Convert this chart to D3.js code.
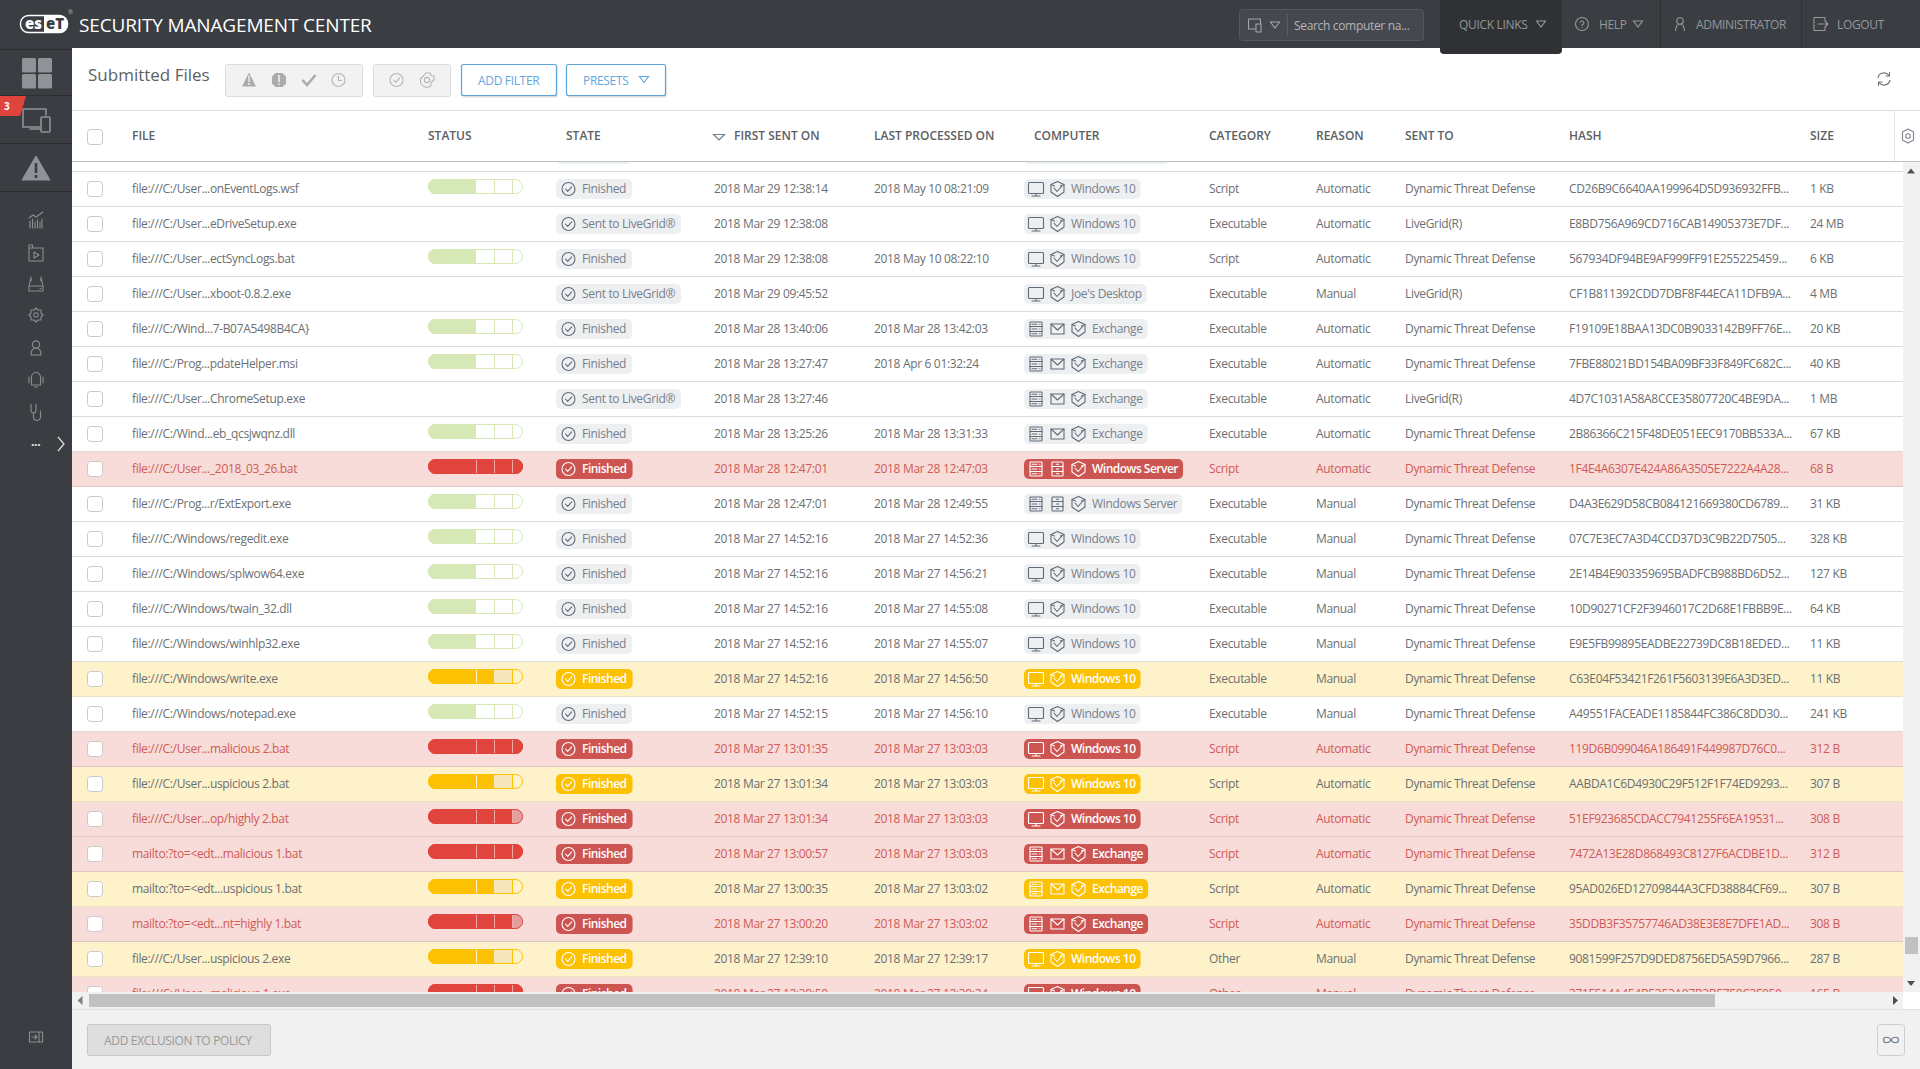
<!DOCTYPE html>
<html>
<head>
<meta charset="utf-8">
<title>Submitted Files</title>
<script src="https://cdn.jsdelivr.net/npm/d3@7"></script>
<style>
  html, body { margin: 0; padding: 0; background: #fff; overflow: hidden; }
  svg { display: block; font-family: "Open Sans", sans-serif; font-size: 12px; letter-spacing: -0.33px; }
  .ico { fill: none; stroke-width: 1.1; stroke-linejoin: round; stroke-linecap: round; }
</style>
</head>
<body>
<div id="chart"></div>
<script>
// Table values
var files = [
    "file:///C:/User...onEventLogs.wsf", "file:///C:/User...eDriveSetup.exe", "file:///C:/User...ectSyncLogs.bat",
    "file:///C:/User...xboot-0.8.2.exe", "file:///C:/Wind...7-B07A5498B4CA}", "file:///C:/Prog...pdateHelper.msi",
    "file:///C:/User...ChromeSetup.exe", "file:///C:/Wind...eb_qcsjwqnz.dll", "file:///C:/User..._2018_03_26.bat",
    "file:///C:/Prog...r/ExtExport.exe", "file:///C:/Windows/regedit.exe", "file:///C:/Windows/splwow64.exe",
    "file:///C:/Windows/twain_32.dll", "file:///C:/Windows/winhlp32.exe", "file:///C:/Windows/write.exe",
    "file:///C:/Windows/notepad.exe", "file:///C:/User...malicious 2.bat", "file:///C:/User...uspicious 2.bat",
    "file:///C:/User...op/highly 2.bat", "mailto:?to=<edt...malicious 1.bat", "mailto:?to=<edt...uspicious 1.bat",
    "mailto:?to=<edt...nt=highly 1.bat", "file:///C:/User...uspicious 2.exe", "file:///C:/User...malicious 1.exe"
];
var statuses = [
    "clean", "", "clean", "", "clean", "clean", "", "clean", "malicious", "clean", "clean", "clean",
    "clean", "clean", "suspicious", "clean", "malicious", "suspicious", "highly", "malicious", "suspicious",
    "highly", "suspicious", "malicious"
];
var firstSent = [
    "2018 Mar 29 12:38:14", "2018 Mar 29 12:38:08", "2018 Mar 29 12:38:08", "2018 Mar 29 09:45:52",
    "2018 Mar 28 13:40:06", "2018 Mar 28 13:27:47", "2018 Mar 28 13:27:46", "2018 Mar 28 13:25:26",
    "2018 Mar 28 12:47:01", "2018 Mar 28 12:47:01", "2018 Mar 27 14:52:16", "2018 Mar 27 14:52:16",
    "2018 Mar 27 14:52:16", "2018 Mar 27 14:52:16", "2018 Mar 27 14:52:16", "2018 Mar 27 14:52:15",
    "2018 Mar 27 13:01:35", "2018 Mar 27 13:01:34", "2018 Mar 27 13:01:34", "2018 Mar 27 13:00:57",
    "2018 Mar 27 13:00:35", "2018 Mar 27 13:00:20", "2018 Mar 27 12:39:10", "2018 Mar 27 12:38:50"
];
var lastProcessed = [
    "2018 May 10 08:21:09", "", "2018 May 10 08:22:10", "", "2018 Mar 28 13:42:03", "2018 Apr 6 01:32:24", "",
    "2018 Mar 28 13:31:33", "2018 Mar 28 12:47:03", "2018 Mar 28 12:49:55", "2018 Mar 27 14:52:36",
    "2018 Mar 27 14:56:21", "2018 Mar 27 14:55:08", "2018 Mar 27 14:55:07", "2018 Mar 27 14:56:50",
    "2018 Mar 27 14:56:10", "2018 Mar 27 13:03:03", "2018 Mar 27 13:03:03", "2018 Mar 27 13:03:03",
    "2018 Mar 27 13:03:03", "2018 Mar 27 13:03:02", "2018 Mar 27 13:03:02", "2018 Mar 27 12:39:17",
    "2018 Mar 27 12:39:24"
];
var computers = [
    "Windows 10", "Windows 10", "Windows 10", "Joe's Desktop", "Exchange", "Exchange", "Exchange", "Exchange",
    "Windows Server", "Windows Server", "Windows 10", "Windows 10", "Windows 10", "Windows 10", "Windows 10",
    "Windows 10", "Windows 10", "Windows 10", "Windows 10", "Exchange", "Exchange", "Exchange", "Windows 10",
    "Windows 10"
];
var categories = [
    "Script", "Executable", "Script", "Executable", "Executable", "Executable", "Executable", "Executable",
    "Script", "Executable", "Executable", "Executable", "Executable", "Executable", "Executable", "Executable",
    "Script", "Script", "Script", "Script", "Script", "Script", "Other", "Other"
];
var reasons = [
    "Automatic", "Automatic", "Automatic", "Manual", "Automatic", "Automatic", "Automatic", "Automatic",
    "Automatic", "Manual", "Manual", "Manual", "Manual", "Manual", "Manual", "Manual", "Automatic", "Automatic",
    "Automatic", "Automatic", "Automatic", "Automatic", "Manual", "Manual"
];
var sentTo = [
    "Dynamic Threat Defense", "LiveGrid(R)", "Dynamic Threat Defense", "LiveGrid(R)", "Dynamic Threat Defense",
    "Dynamic Threat Defense", "LiveGrid(R)", "Dynamic Threat Defense", "Dynamic Threat Defense",
    "Dynamic Threat Defense", "Dynamic Threat Defense", "Dynamic Threat Defense", "Dynamic Threat Defense",
    "Dynamic Threat Defense", "Dynamic Threat Defense", "Dynamic Threat Defense", "Dynamic Threat Defense",
    "Dynamic Threat Defense", "Dynamic Threat Defense", "Dynamic Threat Defense", "Dynamic Threat Defense",
    "Dynamic Threat Defense", "Dynamic Threat Defense", "Dynamic Threat Defense"
];
var hashes = [
    "CD26B9C6640AA199964D5D936932FFB...", "E8BD756A969CD716CAB14905373E7DF...", "567934DF94BE9AF999FF91E255225459...",
    "CF1B811392CDD7DBF8F44ECA11DFB9A...", "F19109E18BAA13DC0B9033142B9FF76E...", "7FBE88021BD154BA09BF33F849FC682C...",
    "4D7C1031A58A8CCE35807720C4BE9DA...", "2B86366C215F48DE051EEC9170BB533A...", "1F4E4A6307E424A86A3505E7222A4A28...",
    "D4A3E629D58CB084121669380CD6789...", "07C7E3EC7A3D4CCD37D3C9B22D7505...", "2E14B4E903359695BADFCB988BD6D52...",
    "10D90271CF2F3946017C2D68E1FBBB9E...", "E9E5FB99895EADBE22739DC8B18EDED...", "C63E04F53421F261F5603139E6A3D3ED...",
    "A49551FACEADE1185844FC386C8DD30...", "119D6B099046A186491F449987D76C0...", "AABDA1C6D4930C29F512F1F74ED9293...",
    "51EF923685CDACC7941255F6EA19531...", "7472A13E28D868493C8127F6ACDBE1D...", "95AD026ED12709844A3CFD38884CF69...",
    "35DDB3F35757746AD38E3E8E7DFE1AD...", "9081599F257D9DED8756ED5A59D7966...", "371F514A454B5353A07B3B5758C3F050..."
];
var sizes = [
    "1 KB", "24 MB", "6 KB", "4 MB", "20 KB", "40 KB", "1 MB", "67 KB", "68 B", "31 KB", "328 KB", "127 KB",
    "64 KB", "11 KB", "11 KB", "241 KB", "312 B", "307 B", "308 B", "312 B", "307 B", "308 B", "287 B", "165 B"
];
var headers = ["FILE", "STATUS", "STATE", "FIRST SENT ON", "LAST PROCESSED ON", "COMPUTER", "CATEGORY", "REASON", "SENT TO", "HASH", "SIZE"];
var headerKeys = ["file", "status", "state", "first", "last", "computer", "category", "reason", "sent", "hash", "size"];
var topLinks = ["QUICK LINKS", "HELP", "ADMINISTRATOR", "LOGOUT"];

var svgWidth = 1920;
var svgHeight = 1069;

var dark = "#3a3d42";
var iconGray = "#8f9296";
var textGray = "#6c6f72";

// Row styles by threat level
var rowFill = { malicious: "#f8dcd9", highly: "#f8dcd9", suspicious: "#fdf2ca" };
var rowLine = { malicious: "#dcc5c3", highly: "#dcc5c3", suspicious: "#ece2c4" };
var rowText = { malicious: "#cf5a55", highly: "#cf5a55" };
var pillFill = { malicious: "#cd5551", highly: "#cd5551", suspicious: "#fbc102" };
var barLevel = { clean: 1, suspicious: 2, highly: 3, malicious: 4 };
var barColor = { clean: "#d5e8b6", suspicious: "#fbc102", highly: "#e0443c", malicious: "#e0443c" };

var colX = d3.scaleOrdinal()
    .domain(headerKeys.concat(["firstCell", "lastCell", "computerCell", "stateCell"]))
    .range([132, 428, 566, 734, 874, 1034, 1209, 1316, 1405, 1569, 1810, 714, 874, 1024, 556]);

var rowIndex = d3.range(files.length);
var rowY = d3.scaleBand()
    .domain(rowIndex)
    .range([172, 172 + 35 * files.length]);

// Status bar is four unequal segments, so level -> x is piecewise
var barX = d3.scaleLinear()
    .domain([0, 1, 2, 3, 4])
    .range([0, 48, 66, 84, 95]);

var svg = d3.select("#chart")
    .append("svg")
    .attr("width", svgWidth)
    .attr("height", svgHeight);

var defs = svg.append("defs");
defs.append("clipPath").attr("id", "tableClip")
    .append("rect").attr("x", 72).attr("y", 162).attr("width", 1831).attr("height", 830);
defs.append("clipPath").attr("id", "barClip")
    .append("rect").attr("width", 95).attr("height", 15).attr("rx", 7.5);
defs.append("clipPath").attr("id", "lastClip")
    .append("rect").attr("x", 874).attr("y", 120).attr("width", 120).attr("height", 30);
defs.append("clipPath").attr("id", "reasonClip")
    .append("rect").attr("x", 1316).attr("y", 120).attr("width", 48).attr("height", 30);
defs.append("clipPath").attr("id", "logoClip")
    .append("rect").attr("x", 44).attr("y", 15).attr("width", 24).attr("height", 18);

// ---- small icon helpers, each drawn around 0,0 ----------------------------
function ico(parent, x, y, color) {
    return parent.append("g")
        .attr("class", "ico")
        .attr("transform", `translate(${x}, ${y})`)
        .attr("stroke", color);
}
function iconMonitor(parent, x, y, color) {
    var g = ico(parent, x, y, color);
    g.append("rect").attr("x", -7.5).attr("y", -6.5).attr("width", 15).attr("height", 11).attr("rx", 1);
    g.append("path").attr("d", "M0,4.5V7M-4,7H4");
}
function iconShield(parent, x, y, color) {
    var g = ico(parent, x, y, color);
    g.append("path").attr("d", "M-6.5,-4.5L0,-7.5L6.5,-4.5V3L0,7.5L-6.5,3Z");
    g.append("path").attr("d", "M-6.5,-4.5L-3,-3M6.5,-4.5L3,-3M-3.5,-1L-0.5,2.5L4.5,-3");
}
function iconServer(parent, x, y, color) {
    var g = ico(parent, x, y, color);
    g.append("rect").attr("x", -6).attr("y", -7).attr("width", 12).attr("height", 14).attr("rx", 0.8);
    g.append("path").attr("d", "M-6,-2.5H6M-6,2.5H6M-4,-4.8H1M-4,0H1M-4,4.8H1M3.6,-4.8H4M3.6,0H4M3.6,4.8H4");
}
function iconTower(parent, x, y, color) {
    var g = ico(parent, x, y, color);
    g.append("rect").attr("x", -5.5).attr("y", -7).attr("width", 11).attr("height", 14).attr("rx", 0.8);
    g.append("path").attr("d", "M-5.5,-2.5H5.5M-5.5,2.5H5.5M-1.2,-4.8H1.2M-1.2,0H1.2M-1.2,4.8H1.2");
}
function iconMail(parent, x, y, color) {
    var g = ico(parent, x, y, color);
    g.append("rect").attr("x", -6.5).attr("y", -5).attr("width", 13).attr("height", 10);
    g.append("path").attr("d", "M-6.5,-5L0,1L6.5,-5");
}
function iconCheck(parent, x, y, color, r) {
    var g = ico(parent, x, y, color);
    g.append("circle").attr("r", r || 6.5);
    g.append("path").attr("d", "M-3,0L-0.8,2.4L3.2,-2.2");
}
function triangle(parent, x, y, color) {
    parent.append("path")
        .attr("d", `M${x - 4.5},${y - 3}H${x + 4.5}L${x},${y + 3}Z`)
        .attr("fill", "none")
        .attr("stroke", color)
        .attr("stroke-width", 1.1);
}
function label(parent, x, y, txt, color, size, weight) {
    return parent.append("text")
        .attr("x", x)
        .attr("y", y)
        .attr("dy", "0.35em")
        .attr("fill", color)
        .style("font-size", (size || 12) + "px")
        .style("font-weight", weight || 400)
        .text(txt);
}

// ---- page background ------------------------------------------------------
svg.append("rect").attr("width", svgWidth).attr("height", svgHeight).attr("fill", "#fff");

// ---- table rows (behind the header) ---------------------------------------
var tableGroup = svg.append("g").attr("clip-path", "url(#tableClip)");

// the row scrolled under the header, only the bottoms of its two pills show
tableGroup.append("rect").attr("x", colX("stateCell")).attr("y", rowY(0) - 28).attr("width", 75).attr("height", 20).attr("rx", 5).attr("fill", "#eeeff1");
tableGroup.append("rect").attr("x", colX("computerCell")).attr("y", rowY(0) - 28).attr("width", 145).attr("height", 20).attr("rx", 5).attr("fill", "#eeeff1");

tableGroup.append("line")
    .attr("x1", 72).attr("x2", 1903)
    .attr("y1", 171.5).attr("y2", 171.5)
    .attr("stroke", "#dcdcdc");

var rows = tableGroup.selectAll("g.row")
    .data(rowIndex)
    .enter()
    .append("g")
    .attr("class", "row")
    .attr("transform", d => `translate(0, ${rowY(d)})`);

rows.append("rect")
    .attr("x", 72)
    .attr("width", 1831)
    .attr("height", rowY.bandwidth())
    .attr("fill", d => rowFill[statuses[d]] || "#fff");

rows.append("line")
    .attr("x1", 72).attr("x2", 1903)
    .attr("y1", 34.5).attr("y2", 34.5)
    .attr("stroke", d => rowLine[statuses[d]] || "#dcdcdc");

// check boxes
rows.append("rect")
    .attr("x", 87.5).attr("y", 9.5)
    .attr("width", 15).attr("height", 15).attr("rx", 3)
    .attr("fill", "#fff").attr("stroke", "#c9c9c9");

// plain text columns
var columns = [
    { key: "file", values: files },
    { key: "firstCell", values: firstSent },
    { key: "lastCell", values: lastProcessed },
    { key: "category", values: categories },
    { key: "reason", values: reasons },
    { key: "sent", values: sentTo },
    { key: "hash", values: hashes },
    { key: "size", values: sizes }
];
columns.forEach(function (col) {
    rows.append("text")
        .attr("x", colX(col.key))
        .attr("y", 17)
        .attr("dy", "0.35em")
        .attr("fill", d => rowText[statuses[d]] || textGray)
        .text(d => col.values[d]);
});

// status bars
var bars = rows.filter(d => statuses[d] !== "")
    .append("g")
    .attr("transform", `translate(${colX("status")}, 7)`);

bars.each(function (d) {
    var bar = d3.select(this);
    var status = statuses[d];
    var color = barColor[status];
    var inner = bar.append("g").attr("clip-path", "url(#barClip)");
    inner.append("rect")
        .attr("width", barX(4)).attr("height", 15)
        .attr("fill", status === "suspicious" ? "none" : "#fff")
        .attr("fill-opacity", status === "clean" ? 1 : 0);
    inner.append("rect")
        .attr("width", barX(barLevel[status])).attr("height", 15)
        .attr("fill", color);
    if (status === "suspicious") {
        inner.append("rect").attr("x", barX(2)).attr("width", barX(3) - barX(2)).attr("height", 15).attr("fill", "#f7e6bb");
    }
    if (status === "highly") {
        inner.append("rect").attr("x", barX(3)).attr("width", barX(4) - barX(3)).attr("height", 15).attr("fill", "#e3a19e");
    }
    [1, 2, 3].forEach(function (lvl) {
        var stroke = "#f3aaa5";
        if (status === "clean") stroke = lvl === 1 ? "none" : color;
        if (status === "suspicious") stroke = lvl === 1 ? "#fdf2ca" : (lvl === 3 ? color : "none");
        inner.append("line")
            .attr("x1", barX(lvl) + 0.5).attr("x2", barX(lvl) + 0.5)
            .attr("y1", 0).attr("y2", 15)
            .attr("stroke", stroke);
    });
    bar.append("rect")
        .attr("x", 0.5).attr("y", 0.5)
        .attr("width", barX(4) - 1).attr("height", 14).attr("rx", 7)
        .attr("fill", "none")
        .attr("stroke", color);
});

// state and computer pills
rows.each(function (d) {
    var row = d3.select(this);
    var status = statuses[d];
    var flagged = status !== "" && status !== "clean";
    var fg = flagged ? "#fff" : "#76808b";
    var stroke = flagged ? "#fff" : "#5f6b78";
    var weight = flagged ? 600 : 400;
    var spacing = flagged ? "-0.5px" : null;

    var stateG = row.append("g");
    var stateBox = stateG.append("rect")
        .attr("x", colX("stateCell")).attr("y", 7)
        .attr("height", 20).attr("rx", 5)
        .attr("fill", pillFill[status] || "#eeeff1");
    iconCheck(stateG, colX("stateCell") + 12.5, 17, stroke);
    var stateLabel = label(stateG, colX("stateCell") + 26, 17, status === "" ? "Sent to LiveGrid\u00ae" : "Finished", fg, 12, weight)
        .style("letter-spacing", spacing);
    stateBox.attr("width", stateLabel.node().getComputedTextLength() + 32);

    // icon set depends on the machine type
    var comp = computers[d];
    var compG = row.append("g");
    var compBox = compG.append("rect")
        .attr("x", colX("computerCell")).attr("y", 7)
        .attr("height", 20).attr("rx", 5)
        .attr("fill", pillFill[status] || "#eeeff1");
    var base = colX("computerCell");
    var textX = base + 47;
    if (comp === "Exchange" || comp === "Windows Server") {
        iconServer(compG, base + 12, 17, stroke);
        if (comp === "Exchange") iconMail(compG, base + 33.5, 17, stroke);
        else iconTower(compG, base + 33.5, 17, stroke);
        iconShield(compG, base + 54.5, 17, stroke);
        textX = base + 68;
    } else {
        iconMonitor(compG, base + 12, 17, stroke);
        iconShield(compG, base + 33.5, 17, stroke);
    }
    var compLabel = label(compG, textX, 17, comp, fg, 12, weight)
        .style("letter-spacing", spacing);
    compBox.attr("width", textX - base + compLabel.node().getComputedTextLength() + 5);
});

// ---- header of the table --------------------------------------------------
var headerGroup = svg.append("g");
headerGroup.selectAll("text")
    .data(headers)
    .enter()
    .append("text")
    .attr("x", (d, i) => colX(headerKeys[i]))
    .attr("y", 135.5)
    .attr("dy", "0.35em")
    .attr("fill", "#5c6064")
    .attr("clip-path", (d, i) => headerKeys[i] === "last" ? "url(#lastClip)" : (headerKeys[i] === "reason" ? "url(#reasonClip)" : null))
    .style("font-weight", 600)
    .style("letter-spacing", "0px")
    .text(d => d);

svg.append("path")
    .attr("d", "M713.5,134.5H724.5L719,140Z")
    .attr("fill", "none")
    .attr("stroke", "#6b7f90")
    .attr("stroke-width", 1.2);

svg.append("rect")
    .attr("x", 87.5).attr("y", 129.5)
    .attr("width", 15).attr("height", 15).attr("rx", 3)
    .attr("fill", "#fff").attr("stroke", "#c9c9c9");

svg.append("line").attr("x1", 72).attr("x2", 1920).attr("y1", 110.5).attr("y2", 110.5).attr("stroke", "#dedede");
svg.append("line").attr("x1", 72).attr("x2", 1920).attr("y1", 161.5).attr("y2", 161.5).attr("stroke", "#b9c5c9");
svg.append("line").attr("x1", 1894.5).attr("x2", 1894.5).attr("y1", 110).attr("y2", 161).attr("stroke", "#e2e2e2");

// settings gear next to the header
var gear = ico(svg, 1908, 136, "#7d8690");
gear.append("path").attr("d", "M0,-7L5.5,-4V4L0,7L-5.5,4V-4Z");
gear.append("circle").attr("r", 2.3);

// ---- scrollbars -----------------------------------------------------------
svg.append("rect").attr("x", 1903).attr("y", 162).attr("width", 17).attr("height", 830).attr("fill", "#f1f1f1");
svg.append("rect").attr("x", 1905).attr("y", 937).attr("width", 13).attr("height", 17).attr("fill", "#c1c1c1");
svg.append("path").attr("d", "M1907,173.5L1911,168.5L1915,173.5Z").attr("fill", "#505050");
svg.append("path").attr("d", "M1907,981L1911,986L1915,981Z").attr("fill", "#505050");

svg.append("rect").attr("x", 72).attr("y", 992).attr("width", 1831).attr("height", 17).attr("fill", "#f1f1f1");
svg.append("rect").attr("x", 89).attr("y", 994).attr("width", 1626).attr("height", 13).attr("fill", "#c1c1c1");
svg.append("path").attr("d", "M82.5,996L77.5,1000.5L82.5,1005Z").attr("fill", "#808080");
svg.append("path").attr("d", "M1893,996L1898,1000.5L1893,1005Z").attr("fill", "#505050");

// ---- footer ---------------------------------------------------------------
svg.append("rect").attr("x", 72).attr("y", 1009).attr("width", 1848).attr("height", 60).attr("fill", "#f1f1f1");
svg.append("line").attr("x1", 72).attr("x2", 1920).attr("y1", 1009.5).attr("y2", 1009.5).attr("stroke", "#e2e2e2");
svg.append("rect")
    .attr("x", 87.5).attr("y", 1024.5).attr("width", 183).attr("height", 31).attr("rx", 2)
    .attr("fill", "#dedede").attr("stroke", "#c9c9c9");
label(svg, 104, 1040.5, "ADD EXCLUSION TO POLICY", "#9a9a9a");
svg.append("rect")
    .attr("x", 1877.5).attr("y", 1024.5).attr("width", 27).attr("height", 31).attr("rx", 3)
    .attr("fill", "#f1f1f1").attr("stroke", "#cdcdcd");
var inf = ico(svg, 1891, 1040, "#6e7b88");
inf.append("path").attr("d", "M0,0C-2,-3.6 -7.5,-3.6 -7.5,0C-7.5,3.6 -2,3.6 0,0C2,-3.6 7.5,-3.6 7.5,0C7.5,3.6 2,3.6 0,0Z");

// ---- toolbar --------------------------------------------------------------
label(svg, 88, 75, "Submitted Files", "#5d6164", 17).style("letter-spacing", "0px");

function toolBox(x, w) {
    svg.append("rect")
        .attr("x", x + 0.5).attr("y", 64.5).attr("width", w).attr("height", 32).attr("rx", 2)
        .attr("fill", "#f2f2f2").attr("stroke", "#dcdcdc");
}
toolBox(225, 137);
toolBox(373, 77);

svg.append("path").attr("d", "M249,72.5L256,86.5H242Z").attr("fill", "#a9abad");
svg.append("path").attr("d", "M275.5,73H282.5L286,76.5V83.5L282.5,87H275.5L272,83.5V76.5Z").attr("fill", "#a9abad");
svg.append("path").attr("d", "M279,75V82M279,83.5V85").attr("stroke", "#f2f2f2").attr("stroke-width", 1.6);
svg.append("path").attr("d", "M249,75.5V82M249,83V85").attr("stroke", "#f2f2f2").attr("stroke-width", 1.4);
svg.append("path").attr("d", "M302.5,80L307,85L315.5,75").attr("fill", "none").attr("stroke", "#a9abad").attr("stroke-width", 2.6);
var clock = ico(svg, 338.5, 80, "#b3b5b7");
clock.append("circle").attr("r", 6.5);
clock.append("path").attr("d", "M0,-4V0.5H3");
iconCheck(svg, 396.5, 80, "#b3b5b7");
var cogged = ico(svg, 427, 80, "#b3b5b7");
cogged.append("path").attr("d", "M-1,-7H3L4,-4.5L7,-4V0L4,2V6L0,7.5L-4,6L-6.5,3V-1.5L-3.5,-4Z");
cogged.append("circle").attr("r", 2.6);

function blueButton(x, w, txt, textX) {
    svg.append("rect")
        .attr("x", x + 1.5).attr("y", 65.5).attr("width", w).attr("height", 32).attr("rx", 2)
        .attr("fill", "#dcdcdc");
    svg.append("rect")
        .attr("x", x + 0.5).attr("y", 64.5).attr("width", w).attr("height", 31).attr("rx", 2)
        .attr("fill", "#fff").attr("stroke", "#5aa5dc").attr("stroke-width", 1.2);
    label(svg, textX, 81, txt, "#5fa8e0");
}
blueButton(461, 95, "ADD FILTER", 478);
blueButton(566, 99, "PRESETS", 583);
triangle(svg, 644, 79.5, "#5fa8e0");

var refresh = ico(svg, 1884, 79, "#6a6f74");
refresh.append("path").attr("d", "M-6,-1.5A6.2,6.2 0 0 1 5,-3.5M6,1.5A6.2,6.2 0 0 1 -5,3.5");
refresh.append("path").attr("d", "M5.5,-6.5V-3H2M-5.5,6.5V3H-2");

// ---- top bar --------------------------------------------------------------
svg.append("rect").attr("width", svgWidth).attr("height", 48).attr("fill", dark);

// logo
svg.append("rect").attr("x", 20.5).attr("y", 15.5).attr("width", 47).attr("height", 17).attr("rx", 8)
    .attr("fill", "none").attr("stroke", "#fff").attr("stroke-width", 1.4);
svg.append("rect").attr("x", 20.5).attr("y", 15.5).attr("width", 47).attr("height", 17).attr("rx", 8)
    .attr("fill", "#fff").attr("clip-path", "url(#logoClip)");
label(svg, 25, 24, "es", "#fff", 15, 800).style("letter-spacing", "0px");
label(svg, 46, 24, "eT", dark, 15, 800).style("letter-spacing", "0px");
label(svg, 68, 12, "\u00ae", "#b8b8b8", 6);

label(svg, 79, 25, "SECURITY MANAGEMENT CENTER", "#fff", 19).style("letter-spacing", "-0.15px");

// search box
svg.append("rect").attr("x", 1239.5).attr("y", 9.5).attr("width", 184).attr("height", 31).attr("rx", 3)
    .attr("fill", "#45484e").attr("stroke", "#54575c");
svg.append("line").attr("x1", 1287.5).attr("x2", 1287.5).attr("y1", 14).attr("y2", 36).attr("stroke", "#5a5d62");
var device = ico(svg, 1255, 25, "#a3a5a8");
device.append("rect").attr("x", -6.5).attr("y", -6).attr("width", 12).attr("height", 10);
device.append("rect").attr("x", 1).attr("y", -1).attr("width", 5).attr("height", 8).attr("fill", "#45484e");
triangle(svg, 1275, 25, "#a3a5a8");
label(svg, 1294, 26, "Search computer na...", "#b4b6b8");

// quick links tab and the rest of the links
svg.append("path")
    .attr("d", "M1440,0V50a4,4 0 0 0 4,4H1558a4,4 0 0 0 4,-4V0Z")
    .attr("fill", "#2f3135");
svg.append("line").attr("x1", 1660.5).attr("x2", 1660.5).attr("y1", 0).attr("y2", 48).attr("stroke", "#2f3135");
svg.append("line").attr("x1", 1801.5).attr("x2", 1801.5).attr("y1", 0).attr("y2", 48).attr("stroke", "#2f3135");

var linkX = d3.scaleOrdinal().domain(topLinks).range([1459, 1599, 1696, 1837]);
svg.append("g").selectAll("text")
    .data(topLinks)
    .enter()
    .append("text")
    .attr("x", d => linkX(d))
    .attr("y", 24.5)
    .attr("dy", "0.35em")
    .attr("fill", "#95989b")
    .text(d => d);

triangle(svg, 1541, 24, "#95989b");
triangle(svg, 1638, 24, "#95989b");
var help = ico(svg, 1582, 24, "#95989b");
help.append("circle").attr("r", 6.5);
help.append("path").attr("d", "M-1.8,-1.8A1.9,1.9 0 1 1 0,0.8V1.6M0,3.4V3.6");
var user = ico(svg, 1680, 24, "#95989b");
user.append("circle").attr("cy", -3).attr("r", 3.2);
user.append("path").attr("d", "M-4.5,6.5C-4,2 -2,0.5 -1,0.5M4.5,6.5C4,2 2,0.5 1,0.5");
var logout = ico(svg, 1820, 24, "#95989b");
logout.append("path").attr("d", "M5,-3V-6.5H-6V6.5H5V3M-2,0H8M5,-3L8,0L5,3");

// ---- left side bar --------------------------------------------------------
svg.append("rect").attr("y", 48).attr("width", 72).attr("height", svgHeight - 48).attr("fill", dark);
[49, 95, 143, 191].forEach(function (y) {
    svg.append("line").attr("x1", 0).attr("x2", 72).attr("y1", y + 0.5).attr("y2", y + 0.5).attr("stroke", "#2b2d31");
});

// dashboard tiles
[[22, 58], [38, 58], [22, 74], [38, 74]].forEach(function (p) {
    svg.append("rect").attr("x", p[0]).attr("y", p[1]).attr("width", 14).attr("height", 14.5).attr("rx", 1.5).attr("fill", iconGray);
});

// computers icon with badge
var screen = ico(svg, 0, 0, iconGray).style("stroke-width", 1.6);
screen.append("path").attr("d", "M46,115V109H23V127H40M30,129H40M35,127V129");
screen.append("rect").attr("x", 41).attr("y", 117).attr("width", 9).attr("height", 15).attr("rx", 1).attr("fill", dark);
svg.append("path").attr("d", "M0,96H26L20,116H0Z").attr("fill", "#e0443c");
label(svg, 4, 106, "3", "#fff", 10, 700);

// alert triangle
svg.append("path").attr("d", "M36,156L50,180H22Z").attr("fill", iconGray).attr("stroke", iconGray).attr("stroke-linejoin", "round");
svg.append("path").attr("d", "M36,163V173M36,175V178").attr("stroke", dark).attr("stroke-width", 2.6);

// small nav icons
var navColor = "#8b8e92";
var nav1 = ico(svg, 36, 220, navColor);
nav1.append("path").attr("d", "M-6,8V1M-3.5,8V-1M-1,8V2M1.5,8V0M4,8V2M6,8V-1M-7,-2L-3,-5L0,-3L7,-8");
var nav2 = ico(svg, 36, 253, navColor);
nav2.append("path").attr("d", "M-7,-5V8H7V-5H-3.5V-8H-7V-5H-3.5M-2,-1L3,2L-2,5Z");
var nav3 = ico(svg, 36, 284, navColor);
nav3.append("path").attr("d", "M-5,-7L-7,2V7H7V2L5,-7M-5,-7V-3M5,-7V-3M-7,2H7M4,4.5H5");
var nav4 = ico(svg, 36, 315, navColor);
nav4.append("path").attr("d", "M0,-7L2,-5L5,-5L5,-2L7,0L5,2L5,5L2,5L0,7L-2,5L-5,5L-5,2L-7,0L-5,-2L-5,-5L-2,-5Z");
nav4.append("circle").attr("r", 2.2);
var nav5 = ico(svg, 36, 348, navColor);
nav5.append("circle").attr("cy", -3.5).attr("r", 3.6);
nav5.append("path").attr("d", "M-5,7C-5,2 -3,0.5 -1,0.5M5,7C5,2 3,0.5 1,0.5M-5,7H5");
var nav6 = ico(svg, 36, 380, navColor);
nav6.append("path").attr("d", "M-4.5,5V-3A4.5,4.5 0 0 1 4.5,-3V5ZM-1.5,7H1.5M0,-8V-7.5M-7,-3V3M7,-3V3");
var nav7 = ico(svg, 36, 412, navColor);
nav7.append("path").attr("d", "M-5,-8V-2A2.5,3 0 0 0 0,-2V-8M-2.5,1V5A3.5,3.5 0 0 0 4.5,5V0M4.5,-1.5V-1.4");
label(svg, 31, 442, "...", "#e6e6e6", 12, 700);
svg.append("path").attr("d", "M58,437L64,444L58,451").attr("fill", "none").attr("stroke", "#d9d9d9").attr("stroke-width", 1.3);
var collapse = ico(svg, 36, 1037, navColor);
collapse.append("rect").attr("x", -6.5).attr("y", -5).attr("width", 13).attr("height", 10);
collapse.append("path").attr("d", "M3,-5V5M-4,0H1M-1,-2L1,0L-1,2");
</script>
</body>
</html>
